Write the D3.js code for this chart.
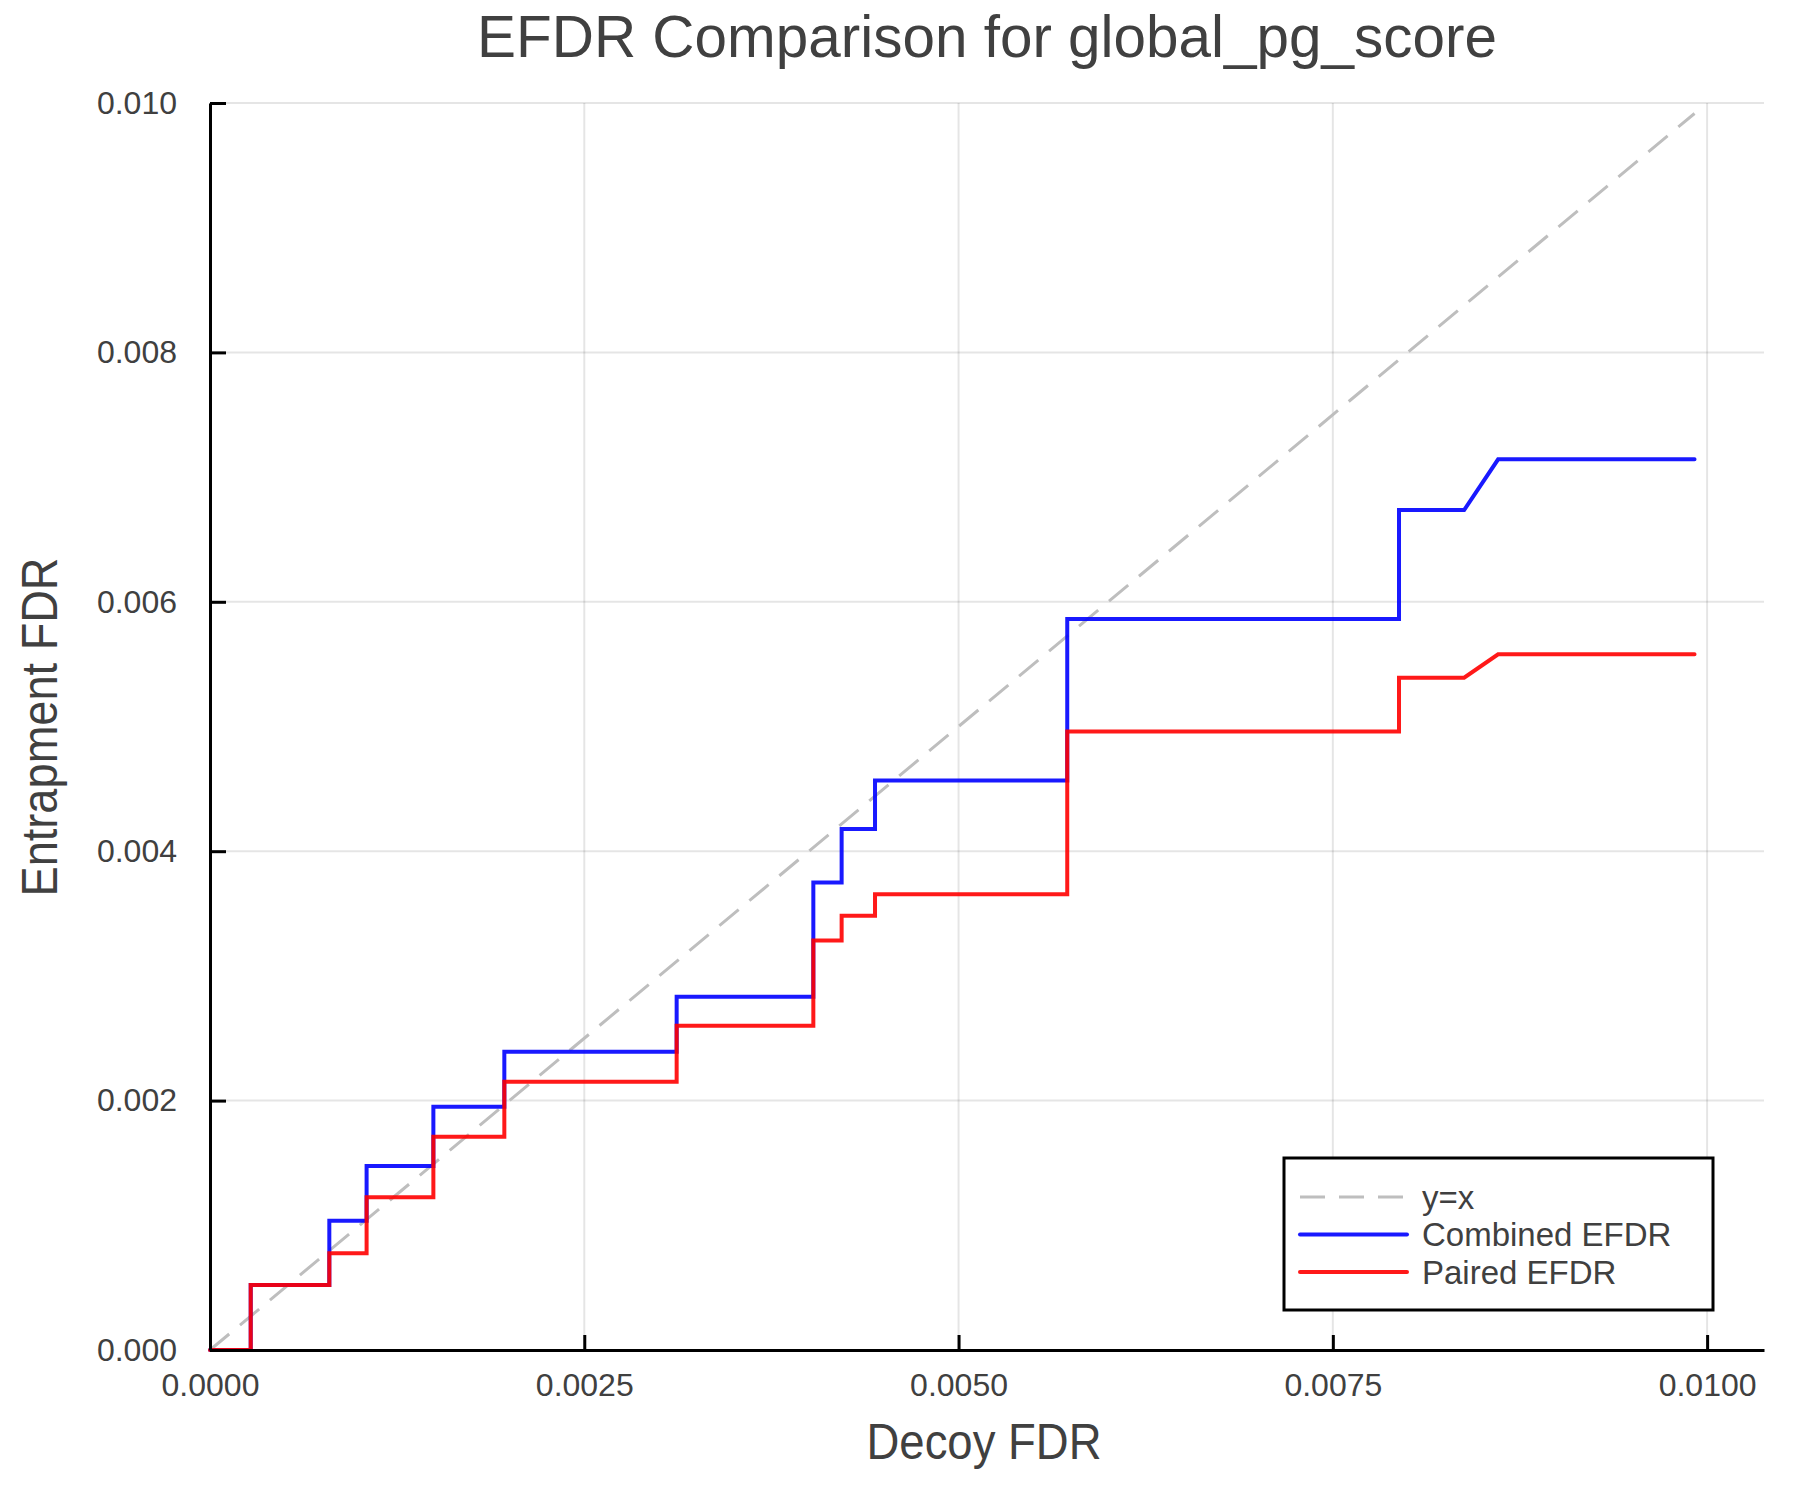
<!DOCTYPE html>
<html>
<head>
<meta charset="utf-8">
<script src="https://cdn.jsdelivr.net/npm/d3@7"></script>
<style>
  html, body { margin: 0; padding: 0; background: #fff; }
  svg { display: block; }
  text { font-family: "Liberation Sans", Arial, Helvetica, sans-serif; fill: #404040; }
</style>
</head>
<body>
<svg id="chart" width="1800" height="1500"></svg>
<script>
// ---------------- data ----------------
const titleText = "EFDR Comparison for global_pg_score";
const xLabel = "Decoy FDR";
const yLabel = "Entrapment FDR";
const xTicks = [0, 0.0025, 0.005, 0.0075, 0.01];
const yTicks = [0, 0.002, 0.004, 0.006, 0.008, 0.010];
const seriesNames = ["y=x", "Combined EFDR", "Paired EFDR"];

const decoyFDR = [0, 0.000272, 0.000272, 0.000797, 0.000797, 0.001046, 0.001046,
  0.001492, 0.001492, 0.001966, 0.001966, 0.003117, 0.003117, 0.00403, 0.00403,
  0.004219, 0.004219, 0.004442, 0.004442, 0.005726, 0.005726, 0.007942, 0.007942,
  0.008377, 0.008604, 0.009916];
const combinedEFDR = [0, 0, 0.000521, 0.000521, 0.001037, 0.001037, 0.001476,
  0.001476, 0.001951, 0.001951, 0.002392, 0.002392, 0.002833, 0.002833, 0.00375,
  0.00375, 0.004178, 0.004178, 0.004566, 0.004566, 0.005862, 0.005862, 0.006736,
  0.006736, 0.007143, 0.007143];
const pairedEFDR = [0, 0, 0.000521, 0.000521, 0.000776, 0.000776, 0.001224,
  0.001224, 0.00171, 0.00171, 0.002152, 0.002152, 0.002601, 0.002601, 0.003283,
  0.003283, 0.003483, 0.003483, 0.003654, 0.003654, 0.004959, 0.004959, 0.005391,
  0.005391, 0.005579, 0.005579];
const xDomain = [0, 0.01038];
const yDomain = [0, 0.010];

// ---------------- layout ----------------
const M = { left: 210, right: 1764, top: 103, bottom: 1350 };
const svg = d3.select("#chart");
svg.append("rect").attr("width", 1800).attr("height", 1500).attr("fill", "#fff");

const x = d3.scaleLinear().domain(xDomain).range([M.left, M.right]);
const y = d3.scaleLinear().domain(yDomain).range([M.bottom, M.top]);

// grid
const grid = svg.append("g");
grid.selectAll(".gx").data(xTicks).join("line")
  .attr("x1", d => x(d)).attr("x2", d => x(d))
  .attr("y1", M.top).attr("y2", M.bottom)
  .attr("stroke", "#000").attr("stroke-opacity", 0.1).attr("stroke-width", 2);
grid.selectAll(".gy").data(yTicks).join("line")
  .attr("x1", M.left).attr("x2", M.right)
  .attr("y1", d => y(d)).attr("y2", d => y(d))
  .attr("stroke", "#000").attr("stroke-opacity", 0.1).attr("stroke-width", 2);

// lines
const pts = ys => decoyFDR.map((d, i) => [d, ys[i]]);
const line = d3.line().x(d => x(d[0])).y(d => y(d[1]));
const lastX = decoyFDR[decoyFDR.length - 1];

svg.append("path")
  .attr("d", line([[0, 0], [lastX, lastX]]))
  .attr("fill", "none").attr("stroke", "#bebebe").attr("stroke-width", 3)
  .attr("stroke-dasharray", "25 14");

svg.append("path")
  .attr("d", line(pts(combinedEFDR)))
  .attr("fill", "none").attr("stroke", "#0000ff").attr("stroke-opacity", 0.9)
  .attr("stroke-width", 4).attr("stroke-linecap", "round");

svg.append("path")
  .attr("d", line(pts(pairedEFDR)))
  .attr("fill", "none").attr("stroke", "#ff0000").attr("stroke-opacity", 0.9)
  .attr("stroke-width", 4).attr("stroke-linecap", "round");

// axes
const xAxis = d3.axisBottom(x).tickValues(xTicks).tickFormat(d3.format(".4f"))
  .tickSizeInner(-15).tickSizeOuter(0).tickPadding(23);
const yAxis = d3.axisLeft(y).tickValues(yTicks).tickFormat(d3.format(".3f"))
  .tickSizeInner(-16).tickSizeOuter(0).tickPadding(33);

const gx = svg.append("g").attr("transform", `translate(0,${M.bottom})`).call(xAxis);
const gy = svg.append("g").attr("transform", `translate(${M.left},0)`).call(yAxis);
[gx, gy].forEach(g => {
  g.select(".domain").attr("stroke", "#000").attr("stroke-width", 3);
  g.selectAll(".tick line").attr("stroke", "#000").attr("stroke-width", 3);
  g.selectAll(".tick text").attr("font-size", 32).attr("fill", "#404040")
    .attr("font-family", "Liberation Sans, Arial, sans-serif");
});

// titles
svg.append("text").attr("x", (M.left + M.right) / 2).attr("y", 57)
  .attr("text-anchor", "middle").attr("font-size", 60)
  .attr("textLength", 1020).attr("lengthAdjust", "spacingAndGlyphs")
  .text(titleText);
svg.append("text").attr("x", 984).attr("y", 1459)
  .attr("text-anchor", "middle").attr("font-size", 50)
  .attr("textLength", 235).attr("lengthAdjust", "spacingAndGlyphs")
  .text(xLabel);
svg.append("text").attr("transform", "translate(57,727) rotate(-90)")
  .attr("text-anchor", "middle").attr("font-size", 50)
  .attr("textLength", 339).attr("lengthAdjust", "spacingAndGlyphs")
  .text(yLabel);

// legend
const lg = svg.append("g");
lg.append("rect").attr("x", 1284).attr("y", 1158).attr("width", 429).attr("height", 152)
  .attr("fill", "#fff").attr("stroke", "#000").attr("stroke-width", 3);
const legendStyles = [
  { color: "#bebebe", dash: "25 14", op: 1, w: 3 },
  { color: "#0000ff", dash: null, op: 0.9, w: 4 },
  { color: "#ff0000", dash: null, op: 0.9, w: 4 }
];
seriesNames.forEach((name, i) => {
  const cy = 1197 + i * 37.5;
  const s = legendStyles[i];
  lg.append("line").attr("x1", 1300).attr("x2", 1407).attr("y1", cy).attr("y2", cy)
    .attr("stroke", s.color).attr("stroke-opacity", s.op).attr("stroke-width", s.w)
    .attr("stroke-dasharray", s.dash).attr("stroke-linecap", s.dash ? "butt" : "round");
  lg.append("text").attr("x", 1422).attr("y", cy).attr("dy", "0.36em")
    .attr("font-size", 33).text(name);
});
</script>
</body>
</html>
